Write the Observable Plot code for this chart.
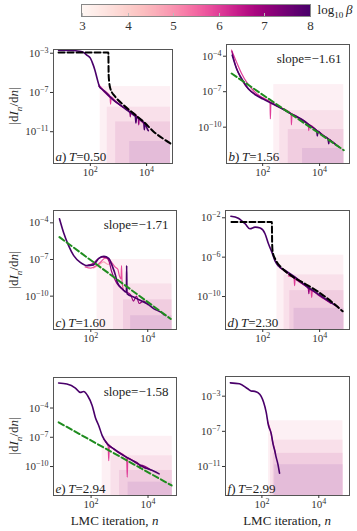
<!DOCTYPE html>
<html><head><meta charset="utf-8">
<script src="https://cdn.jsdelivr.net/npm/d3@7"></script>
<script src="https://cdn.jsdelivr.net/npm/@observablehq/plot@0.6"></script>
<style>
body{margin:0;background:#fff;}
#fig{position:relative;width:357px;height:531px;font-family:'Liberation Serif','DejaVu Serif',serif;color:#222;overflow:hidden;}
#fig svg{overflow:visible;}
.lab{position:absolute;white-space:nowrap;font-size:13px;color:#222;}
.lab sub{font-size:0.7em;}
</style></head><body><div id="fig"></div>
<script>
// ---------- data (log10 n, log10 |dI_n/dn|) ----------
const betaTicks = [3, 4, 5, 6, 7, 8];
const xTickExps = [2, 4];
const temps = [0.50, 1.56, 1.60, 2.30, 2.94, 2.99];
const slopes = [null, -1.61, -1.71, null, -1.58, null];
const panelLetters = ["a", "b", "c", "d", "e", "f"];

// panel a
const aN8 = [0.87, 1.3, 1.6, 1.76, 1.9, 2.0, 2.06, 2.16, 2.24, 2.33, 2.42, 2.59, 2.83, 3.07, 3.3, 3.54, 3.6, 3.62, 3.64, 3.78, 3.9, 3.92, 3.94, 4.02, 4.06];
const aV8 = [-2.69, -2.72, -2.8, -2.93, -3.25, -3.5, -3.88, -4.7, -5.58, -6.43, -6.67, -7.11, -7.79, -8.30, -8.81, -9.32, -9.45, -10.1, -9.5, -9.83, -10.1, -10.8, -10.2, -10.68, -10.9];
const aN7 = [2.3, 2.5, 2.8, 3.1, 3.4, 3.42, 3.44, 3.7, 3.72, 3.74, 3.95];
const aV7 = [-6.35, -6.95, -7.75, -8.4, -8.95, -9.5, -9.0, -9.6, -10.3, -9.65, -10.3];
const aN6 = [2.3, 2.42, 2.6, 2.7, 2.72, 2.74, 2.9, 3.1, 3.4, 3.7, 3.95];
const aV6 = [-6.2, -6.6, -7.05, -7.4, -8.2, -7.45, -7.9, -8.35, -8.95, -9.6, -10.35];
const aDashN = [0.87, 2.64, 2.65, 2.67, 2.71, 2.89, 3.19, 3.54, 3.9, 4.26, 4.61, 4.85];
const aDashV = [-2.93, -2.93, -5.2, -5.92, -6.6, -7.45, -8.3, -9.15, -10.0, -11.02, -11.76, -12.2];
const aNoiseStart = [2.35, 2.6, 2.9, 3.4];
const aNoiseTop = [-6.4, -8.5, -10.0, -12.0];

// panel b
const bN8 = [0.93, 1.08, 1.26, 1.49, 1.73, 2.02, 2.32, 2.67, 3.03, 3.38, 3.73, 3.9, 3.92, 3.94, 4.09, 4.3, 4.32, 4.34, 4.44, 4.68];
const bV8 = [-3.91, -5.04, -5.88, -6.73, -7.24, -7.63, -8.0, -8.42, -8.9, -9.35, -9.98, -10.3, -10.75, -10.35, -10.68, -11.0, -11.4, -11.05, -11.24, -11.67];
const bN7 = [0.92, 1.05, 1.2, 1.4, 1.7, 2.0, 2.4, 2.8, 3.2, 3.6, 4.0, 4.3, 4.55];
const bV7 = [-3.6, -4.8, -5.7, -6.5, -7.15, -7.55, -8.05, -8.6, -9.15, -9.75, -10.45, -10.95, -11.4];
const bN6 = [0.91, 1.08, 1.26, 1.43, 1.61, 1.8, 2.0, 2.26, 2.27, 2.29, 2.5, 3.0, 3.01, 3.03, 3.3, 3.6, 3.62, 3.64, 3.9];
const bV6 = [-3.49, -4.48, -5.46, -6.17, -6.73, -7.2, -7.5, -7.9, -9.3, -7.95, -8.2, -8.85, -9.8, -8.9, -9.25, -9.75, -10.3, -9.8, -10.3];
const bFitN = [0.91, 4.85];
const bFitV = [-5.46, -11.95];
const bNoiseStart = [2.39, 2.6, 2.9, 3.4];
const bNoiseTop = [-6.4, -8.6, -10.2, -11.8];

// panel c
const cN8 = [0.9, 1.04, 1.22, 1.4, 1.63, 1.87, 2.1, 2.28, 2.46, 2.63, 2.75, 2.87, 2.93, 3.11, 3.25, 3.26, 3.27, 3.28, 3.52, 3.75, 3.99, 4.22, 4.46, 4.58];
const cV8 = [-3.67, -4.77, -5.86, -6.68, -7.23, -7.5, -7.44, -6.9, -6.74, -6.9, -7.5, -8.32, -8.87, -9.41, -9.68, -7.5, -9.7, -9.82, -10.09, -10.36, -10.63, -11.04, -11.31, -11.53];
const cN7 = [1.9, 2.1, 2.25, 2.4, 2.55, 2.65, 2.72, 2.8, 2.9, 3.0, 3.2, 3.4, 3.5, 3.6, 3.7, 3.85, 4.0];
const cV7 = [-7.45, -7.3, -6.95, -6.8, -6.85, -7.2, -7.9, -8.4, -8.9, -9.2, -9.6, -9.9, -10.4, -10.0, -10.6, -10.4, -10.7];
const cN6 = [1.8, 2.0, 2.2, 2.35, 2.5, 2.65, 2.75, 2.85, 2.95, 3.0, 3.06, 3.08, 3.1, 3.15];
const cV6 = [-7.6, -7.7, -7.5, -7.2, -6.9, -7.0, -7.3, -7.6, -7.8, -8.3, -8.6, -7.5, -8.9, -9.5];
const cN5 = [2.1, 2.3, 2.45, 2.6, 2.7, 2.8];
const cV5 = [-7.7, -7.4, -7.2, -7.4, -7.3, -7.9];
const cFitN = [0.9, 4.81];
const cFitV = [-5.17, -11.87];
const cNoiseStart = [2.22, 2.8, 3.15, 3.4];
const cNoiseTop = [-7.0, -9.0, -10.3, -11.6];

// panel d
const dN8 = [0.88, 1.14, 1.38, 1.55, 1.73, 1.91, 2.08, 2.2, 2.32, 2.44, 2.55, 2.79, 3.14, 3.5, 3.85, 4.2, 4.56, 4.65];
const dV8 = [-1.84, -2.04, -2.61, -3.12, -2.95, -3.05, -3.62, -4.64, -5.49, -6.43, -6.91, -7.35, -8.03, -8.88, -9.56, -10.24, -10.92, -11.09];
const dN7 = [2.6, 2.9, 3.3, 3.6, 3.62, 3.64, 4.0, 4.4];
const dV7 = [-7.05, -7.7, -8.55, -9.2, -9.7, -9.25, -9.95, -10.7];
const dN6 = [2.9, 3.1, 3.12, 3.14, 3.4, 3.7, 3.72, 3.74, 4.0, 4.3];
const dV6 = [-7.9, -8.1, -8.9, -8.1, -8.7, -9.4, -10.1, -9.45, -9.9, -10.5];
const dDashN = [0.9, 2.32, 2.33, 2.35, 2.47, 2.65, 3.0, 3.5, 3.97, 4.44, 4.81];
const dDashV = [-2.43, -2.43, -4.64, -5.49, -6.36, -7.04, -7.88, -8.73, -9.56, -10.58, -11.5];
const dNoiseStart = [2.5, 2.75, 2.95, 3.1];
const dNoiseTop = [-5.8, -7.8, -9.4, -11.2];

// panel e
const eN8 = [0.86, 1.15, 1.45, 1.62, 1.74, 1.88, 2.04, 2.15, 2.27, 2.39, 2.57, 2.8, 3.15, 3.51, 3.86, 4.21, 4.39];
const eV8 = [-1.44, -1.54, -1.95, -2.4, -2.3, -2.74, -3.76, -4.96, -5.81, -6.83, -7.68, -8.19, -8.88, -9.49, -10.07, -10.48, -10.75];
const eN7 = [2.5, 2.9, 3.3, 3.7, 3.72, 3.74, 4.1];
const eV7 = [-7.45, -8.45, -9.15, -9.8, -10.2, -9.85, -10.35];
const eN6 = [2.45, 2.6, 2.62, 2.64, 2.9, 3.2, 3.25, 3.27, 3.29, 3.6, 3.9];
const eV6 = [-7.2, -7.9, -9.4, -7.95, -8.4, -8.95, -9.1, -11.1, -9.1, -9.7, -10.2];
const eFitN = [0.86, 4.83];
const eFitV = [-5.47, -11.94];
const eNoiseStart = [2.39, 2.7, 3.0, 3.3];
const eNoiseTop = [-6.9, -8.9, -10.4, -11.6];

// panel f
const fN8 = [0.89, 1.21, 1.5, 1.62, 1.75, 1.86, 1.97, 2.06, 2.15, 2.23, 2.33, 2.39, 2.45, 2.5, 2.56, 2.62];
const fV8 = [-1.48, -1.59, -2.16, -2.4, -2.45, -2.6, -3.0, -3.7, -4.82, -6.33, -7.28, -8.42, -9.18, -9.94, -10.7, -11.76];
const fN6 = [2.2, 2.3, 2.36, 2.42, 2.48];
const fV6 = [-5.9, -6.9, -7.9, -8.7, -9.6];
const fNoiseStart = [2.23, 2.3, 2.4, 2.45];
const fNoiseTop = [-5.8, -8.0, -9.5, -10.8];
const noiseEnd = 4.85;

// ---------- layout / styling ----------
const ML = 44, MR = 3, MT = 3, MB = 26;
const FONT = "'Liberation Serif', 'DejaVu Serif', serif";
const NOISE_FILLS = ["#fdf0f4", "#f9e0ea", "#f1cde0", "#e4bcd9"];
const fig = document.getElementById("fig");
const pts = (ns, vs, beta) => ns.map((n, i) => ({x: 10 ** n, y: 10 ** vs[i], beta}));
const fmtExp = d => "10^" + Math.round(Math.log10(d));
const fmtNum = v => (v < 0 ? "\u2212" : "") + Math.abs(v).toFixed(2);

const panels = [
  {fl: 53, ft: 49, fw: 119, fh: 114, xd: [0.69, 4.92], yd: [-14.24, -2.62], yt: [-3, -7, -11],
   curves: [[aN6, aV6, 6], [aN7, aV7, 7], [aN8, aV8, 8]], dash: [aDashN, aDashV], fit: null, noise: [aNoiseStart, aNoiseTop]},
  {fl: 226, ft: 44, fw: 123, fh: 119, xd: [0.73, 5.05], yd: [-13.07, -3.01], yt: [-4, -7, -10],
   curves: [[bN6, bV6, 6], [bN7, bV7, 7], [bN8, bV8, 8]], dash: null, fit: [bFitN, bFitV], noise: [bNoiseStart, bNoiseTop]},
  {fl: 53, ft: 210, fw: 123, fh: 119, xd: [0.69, 5.01], yd: [-12.73, -2.99], yt: [-4, -7, -10],
   curves: [[cN5, cV5, 4.8], [cN6, cV6, 5.8], [cN7, cV7, 7], [cN8, cV8, 8]], dash: null, fit: [cFitN, cFitV], noise: [cNoiseStart, cNoiseTop]},
  {fl: 225, ft: 210, fw: 124, fh: 119, xd: [0.69, 5.05], yd: [-13.35, -1.26], yt: [-2, -6, -10],
   curves: [[dN6, dV6, 6], [dN7, dV7, 7], [dN8, dV8, 8]], dash: [dDashN, dDashV], fit: null, noise: [dNoiseStart, dNoiseTop]},
  {fl: 53, ft: 377, fw: 123, fh: 118, xd: [0.68, 5.0], yd: [-12.97, -0.87], yt: [-4, -7, -10],
   curves: [[eN6, eV6, 6], [eN7, eV7, 7], [eN8, eV8, 8]], dash: null, fit: [eFitN, eFitV], noise: [eNoiseStart, eNoiseTop]},
  {fl: 225, ft: 376, fw: 124, fh: 119, xd: [0.72, 5.08], yd: [-14.3, -0.76], yt: [-3, -7, -11],
   curves: [[fN6, fV6, 6], [fN8, fV8, 8]], dash: null, fit: null, noise: [fNoiseStart, fNoiseTop]}
];

function place(el, left, top) {
  const w = document.createElement("div");
  w.style.cssText = `position:absolute;left:${left}px;top:${top}px;line-height:0;`;
  w.appendChild(el);
  fig.appendChild(w);
}
function addLabel(html, left, top, rotate) {
  const d = document.createElement("div");
  d.className = "lab";
  d.innerHTML = html;
  d.style.left = left + "px";
  d.style.top = top + "px";
  d.style.transform = "translate(-50%,-50%)" + (rotate ? " rotate(-90deg)" : "");
  fig.appendChild(d);
}

panels.forEach((p, k) => {
  const yLo = 10 ** p.yd[0];
  const marks = [];
  p.noise[0].forEach((s, i) => {
    marks.push(Plot.rect([{x1: 10 ** s, x2: 10 ** noiseEnd, y1: yLo, y2: 10 ** p.noise[1][i]}],
      {x1: "x1", x2: "x2", y1: "y1", y2: "y2", fill: NOISE_FILLS[i], clip: true}));
  });
  for (const [ns, vs, beta] of p.curves) {
    marks.push(Plot.line(pts(ns, vs, beta), {x: "x", y: "y", stroke: "beta",
      strokeWidth: beta === 8 ? 1.6 : 1.2, curve: "monotone-x", clip: true}));
  }
  if (p.dash) marks.push(Plot.line(pts(p.dash[0], p.dash[1], 0), {x: "x", y: "y", stroke: "#000",
      strokeWidth: 2, strokeDasharray: "6,3", curve: "monotone-x", clip: true}));
  if (p.fit) marks.push(Plot.line(pts(p.fit[0], p.fit[1], 0), {x: "x", y: "y", stroke: "#1f8c1f",
      strokeWidth: 2, strokeDasharray: "6,3", clip: true}));
  marks.push(Plot.frame({stroke: "#555"}));
  marks.push(Plot.axisX({ticks: xTickExps.map(e => 10 ** e), tickFormat: fmtExp, tickSize: 3, tickPadding: 2, label: null, fontSize: 11}));
  marks.push(Plot.axisY({ticks: p.yt.map(e => 10 ** e), tickFormat: fmtExp, tickSize: 3, tickPadding: 2, label: null, fontSize: 11}));
  marks.push(Plot.text([`${panelLetters[k]}) T=${temps[k].toFixed(2)}`], {frameAnchor: "bottom-left", text: d => d,
      dx: 2, dy: -7, lineAnchor: "middle", textAnchor: "start", fontSize: 13, fill: "#222"}));
  if (slopes[k] !== null) marks.push(Plot.text([`slope=${fmtNum(slopes[k])}`], {frameAnchor: "top-right", text: d => d,
      dx: -8, dy: 14, lineAnchor: "middle", textAnchor: "end", fontSize: 13, fill: "#222"}));
  const svg = Plot.plot({
    width: ML + p.fw + MR, height: MT + p.fh + MB,
    marginLeft: ML, marginRight: MR, marginTop: MT, marginBottom: MB,
    x: {type: "log", domain: [10 ** p.xd[0], 10 ** p.xd[1]]},
    y: {type: "log", domain: [yLo, 10 ** p.yd[1]]},
    color: {type: "linear", scheme: "RdPu", domain: [3, 8]},
    style: {fontFamily: FONT, fontSize: "11px", color: "#333", background: "transparent"},
    marks
  });
  svg.querySelectorAll("text").forEach(t => {
    const s = t.textContent;
    let m = s.match(/^10\^([\u2212-]?\d+)$/);
    if (m) { t.innerHTML = `10<tspan dy="-0.5em" font-size="8">${m[1].replace("-", "\u2212")}</tspan>`; return; }
    m = s.match(/^([a-f])\) T=(.*)$/);
    if (m) t.innerHTML = `<tspan font-style="italic">${m[1]}</tspan>)\u2009<tspan font-style="italic">T</tspan>=${m[2]}`;
  });
  place(svg, p.fl - ML, p.ft - MT);
  if (k % 2 === 0) addLabel("|d<i>I</i><sub><i>n</i></sub>/d<i>n</i>|", 15, p.ft + p.fh / 2, true);
  if (k >= 4) addLabel("LMC iteration, <i>n</i>", p.fl + p.fw / 2, 521, false);
});

// colorbar
const cb = Plot.legend({
  color: {type: "linear", scheme: "RdPu", domain: [3, 8]},
  label: null, ticks: betaTicks, tickFormat: d => String(d), tickSize: 2,
  width: 268, marginLeft: 20, marginRight: 20, height: 34, marginTop: 5, marginBottom: 18,
  style: {fontFamily: FONT, fontSize: "13px", color: "#333", background: "transparent"}
});
cb.querySelectorAll(".tick line").forEach(l => { l.setAttribute("y1", -3); l.setAttribute("y2", 0); l.setAttribute("stroke", "#bbb"); });
place(cb, 62, 0);
const border = document.createElement("div");
border.style.cssText = "position:absolute;left:81px;top:4px;width:230px;height:13px;border:1px solid #888;box-sizing:border-box;";
fig.appendChild(border);
addLabel("log<sub>10</sub>&thinsp;<i>β</i>", 335, 11, false);
</script></body></html>
